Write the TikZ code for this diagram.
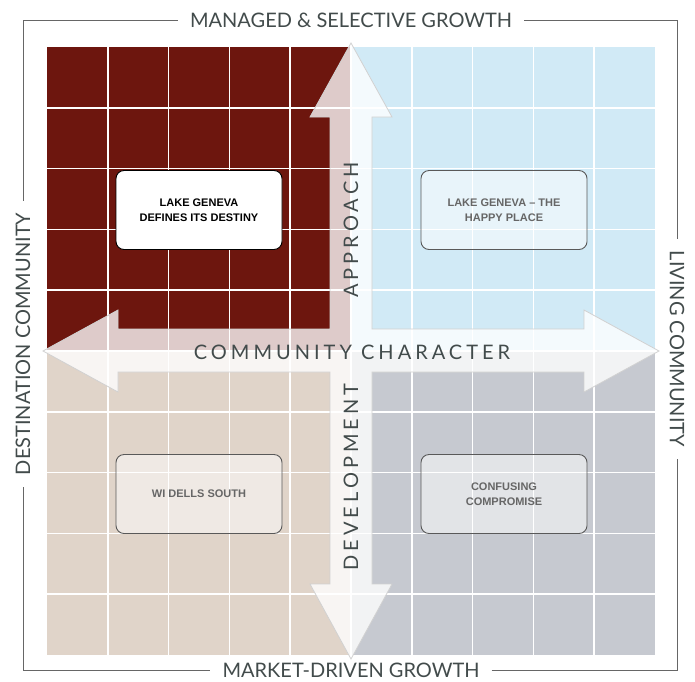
\documentclass[tikz,border=0pt]{standalone}
\usepackage{fontspec}
\setmainfont{Lato}
\newfontfamily\boxfont{Liberation Sans Bold}
\definecolor{redq}{HTML}{6D160E}
\definecolor{blueq}{HTML}{D1EAF6}
\definecolor{beigeq}{HTML}{E0D4C9}
\definecolor{greyq}{HTML}{C6C9D0}
\definecolor{inkgrey}{HTML}{424B4B}
\definecolor{boxgrey}{HTML}{666666}
\begin{document}
\begin{tikzpicture}[x=1pt,y=-1pt]
  \tikzstyle{cellline}=[white,line width=1.5pt]
  \tikzstyle{fleche}=[fill=white,fill opacity=0.78,draw=black!18,line width=0.8pt,line join=miter]
  \tikzstyle{axe}=[text=inkgrey,font=\fontsize{20}{24}\selectfont\addfontfeature{LetterSpace=20}]
  \tikzstyle{etiquette}=[text=inkgrey,inner xsep=12pt,inner ysep=0pt,font=\fontsize{20}{24}\selectfont]
  \tikzstyle{boite}=[rounded corners=8pt,line width=0.9pt,minimum width=166pt,minimum height=79pt,align=center,font=\boxfont\fontsize{11}{15.5}\selectfont]
  \tikzset{pale/.style = {boite,fill=white,fill opacity=0.5,text opacity=1,draw=black!65,text=boxgrey}}
  \tikzset{frame/.style = {black!60,line width=0.9pt}}
  \useasboundingbox (0,0) rectangle (695,681);
  % quadrants
  \fill[redq] (47,47) rectangle (351,351);
  \fill[blueq] (351,47) rectangle (655,351);
  \fill[beigeq] (47,351) rectangle (351,655);
  \fill[greyq] (351,351) rectangle (655,655);
  \foreach \i in {1,...,9} {
    \draw[cellline] (47+\i*60.8,47) -- (47+\i*60.8,655);
    \draw[cellline] (47,47+\i*60.8) -- (655,47+\i*60.8);
  }
  % cross arrow
  \draw[fleche,shift={(351,351)}] (0,-308) -- (41,-234) -- (21,-234) -- (21,-22)
    -- (233,-22) -- (233,-41) -- (308,0) -- (233,41) -- (233,21) -- (21,21)
    -- (21,233) -- (41,233) -- (0,308) -- (-41,233) -- (-21,233) -- (-21,21)
    -- (-233,21) -- (-233,41) -- (-308,0) -- (-233,-41) -- (-233,-22) -- (-21,-22)
    -- (-21,-234) -- (-41,-234) -- cycle;
  \node[axe] (character) at (352,352) {COMMUNITY CHARACTER};
  \node[axe,rotate=90] (approach) at (351,230) {APPROACH};
  \node[axe,rotate=90] (development) at (351,477) {DEVELOPMENT};
  % scenarios
  \node[boite,fill=white,draw=black,text=black] (destiny) at (199,210) {LAKE GENEVA\\DEFINES ITS DESTINY};
  \node[pale] (happy) at (504,210) {LAKE GENEVA – THE\\HAPPY PLACE};
  \node[pale] (dells) at (199,494) {WI DELLS SOUTH};
  \node[pale] (compromise) at (504,494) {CONFUSING\\COMPROMISE};
  % outer frame
  \node[etiquette] (market) at (351,670) {MARKET-DRIVEN GROWTH};
  \node[etiquette] (managed) at (351,20) {MANAGED \& SELECTIVE GROWTH};
  \node[etiquette,rotate=90] (destination) at (23,344) {DESTINATION COMMUNITY};
  \node[etiquette,rotate=-90] (living) at (677,349) {LIVING COMMUNITY};
  \coordinate (cnw) at (23,20);
  \coordinate (cne) at (677,20);
  \coordinate (csw) at (23,670);
  \coordinate (cse) at (677,670);
  \draw[frame] (managed.west) -- (cnw) -- (destination.east);
  \draw[frame] (destination.west) -- (csw) -- (market.west);
  \draw[frame] (market.east) -- (cse) -- (living.east);
  \draw[frame] (living.west) -- (cne) -- (managed.east);
\end{tikzpicture}
\end{document}
